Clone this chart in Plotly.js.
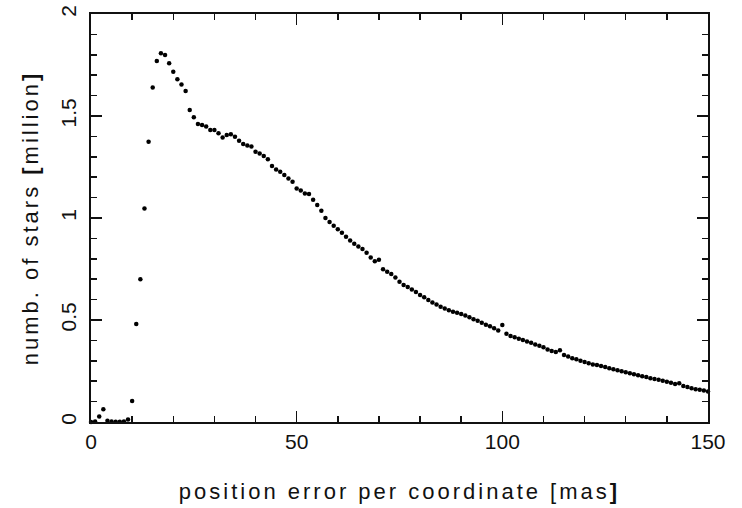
<!DOCTYPE html>
<html>
<head>
<meta charset="utf-8">
<script src="https://cdn.plot.ly/plotly-3.0.1.min.js"></script>
<style>
html,body{margin:0;padding:0;background:#fff;}
#chart{width:742px;height:508px;}
#chart .xtitle, #chart .ytitle{letter-spacing:3px;}
</style>
</head>
<body>
<div id="chart"></div>
<script>
// position error per coordinate [mas]
const posError = [
  0,1,2,3,4,5,6,7,8,9,
  10,11,12,13,14,15,16,17,18,19,
  20,21,22,23,24,25,26,27,28,29,
  30,31,32,33,34,35,36,37,38,39,
  40,41,42,43,44,45,46,47,48,49,
  50,51,52,53,54,55,56,57,58,59,
  60,61,62,63,64,65,66,67,68,69,
  70,71,72,73,74,75,76,77,78,79,
  80,81,82,83,84,85,86,87,88,89,
  90,91,92,93,94,95,96,97,98,99,
  100,101,102,103,104,105,106,107,108,109,
  110,111,112,113,114,115,116,117,118,119,
  120,121,122,123,124,125,126,127,128,129,
  130,131,132,133,134,135,136,137,138,139,
  140,141,142,143,144,145,146,147,148,149,
  150
];
// number of stars [million]
const numStars = [
  0.000,0.002,0.027,0.063,0.006,0.002,0.001,0.001,0.002,0.012,
  0.103,0.480,0.700,1.047,1.374,1.640,1.770,1.807,1.799,1.758,
  1.717,1.680,1.655,1.623,1.529,1.494,1.461,1.456,1.448,1.431,
  1.431,1.415,1.395,1.407,1.410,1.398,1.379,1.363,1.355,1.350,
  1.325,1.316,1.304,1.288,1.255,1.238,1.227,1.211,1.194,1.178,
  1.145,1.135,1.120,1.118,1.090,1.064,1.035,1.000,0.980,0.962,
  0.945,0.928,0.908,0.890,0.874,0.860,0.848,0.830,0.806,0.788,
  0.795,0.749,0.736,0.725,0.708,0.688,0.672,0.662,0.650,0.637,
  0.622,0.612,0.598,0.586,0.576,0.565,0.556,0.548,0.540,0.535,
  0.530,0.522,0.513,0.504,0.496,0.487,0.477,0.469,0.459,0.449,
  0.475,0.432,0.422,0.415,0.408,0.402,0.395,0.388,0.380,0.374,
  0.366,0.356,0.348,0.343,0.352,0.329,0.321,0.313,0.307,0.300,
  0.294,0.288,0.282,0.279,0.274,0.269,0.264,0.259,0.254,0.249,
  0.244,0.239,0.234,0.229,0.224,0.220,0.215,0.211,0.207,0.202,
  0.197,0.192,0.186,0.190,0.176,0.171,0.166,0.161,0.158,0.154,
  0.149
];
const xTickVals = [0, 50, 100, 150];
const xTickText = ['0', '50', '100', '150'];
const yTickVals = [0, 0.5, 1, 1.5, 2];
const yTickText = ['0', '0.5', '1', '1.5', '2'];

const tickFont = {family: '"Liberation Sans Narrow", "Liberation Sans", Arial, sans-serif', size: 21, color: '#111'};
const titleFont = {family: '"Liberation Sans", Arial, sans-serif', size: 22, color: '#111'};

const trace = {
  x: posError, y: numStars, type: 'scatter', mode: 'markers',
  marker: {size: 4.5, color: '#000'},
  cliponaxis: false, hoverinfo: 'skip'
};

const axisCommon = {
  showgrid: false, zeroline: false, showline: true, linecolor: '#111', linewidth: 2,
  mirror: 'ticks', ticks: 'inside', ticklen: 11, tickwidth: 1.5, tickcolor: '#111',
  tickfont: tickFont
};

const layout = {
  width: 742, height: 508,
  margin: {l: 91, r: 34, t: 14, b: 86},
  paper_bgcolor: '#fff', plot_bgcolor: '#fff',
  showlegend: false,
  xaxis: Object.assign({}, axisCommon, {
    range: [0, 150], tickmode: 'array', tickvals: xTickVals, ticktext: xTickText,
    minor: {dtick: 10, tick0: 0, ticks: 'inside', ticklen: 6, tickwidth: 1.5, tickcolor: '#111', showgrid: false},
    title: {text: 'position error per coordinate [mas<b>]</b>', font: titleFont, standoff: 31}
  }),
  yaxis: Object.assign({}, axisCommon, {
    range: [0, 2], tickmode: 'array', tickvals: yTickVals, ticktext: yTickText, tickangle: -90,
    ticklabelstandoff: 5,
    minor: {dtick: 0.1, tick0: 0, ticks: 'inside', ticklen: 6, tickwidth: 1.5, tickcolor: '#111', showgrid: false},
    title: {text: 'numb. of stars <b>[</b>million<b>]</b>', font: titleFont, standoff: 12}
  })
};

Plotly.newPlot('chart', [trace], layout, {staticPlot: true, displayModeBar: false});
</script>
</body>
</html>
